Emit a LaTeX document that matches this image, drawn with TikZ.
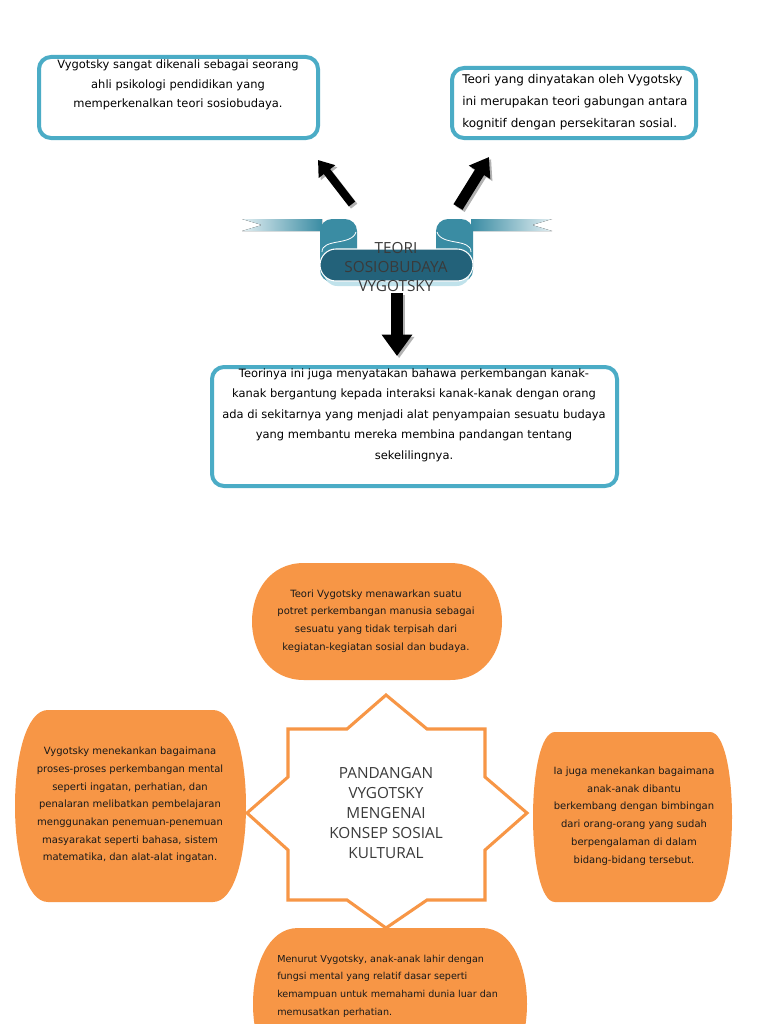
\documentclass[tikz,border=0pt]{standalone}
\usepackage{fontspec}
\setmainfont{DejaVu Sans}
\newfontfamily\titlefont{Open Sans}
\usetikzlibrary{arrows.meta,fit}
\definecolor{boxblue}{HTML}{4BACC6}
\definecolor{orng}{HTML}{F79646}
\definecolor{tealA}{HTML}{3A8CA3}
\definecolor{tealB}{HTML}{23627A}
\definecolor{txtgray}{HTML}{3A3A3A}
\newcommand\orangeblob[5]{%
  \fill[orng] ({#1+#5},#2) -- ({#3-#5},#2)
    .. controls ({#3+#5/3},#2) and ({#3+#5/3},#4) .. ({#3-#5},#4)
    -- ({#1+#5},#4)
    .. controls ({#1-#5/3},#4) and ({#1-#5/3},#2) .. ({#1+#5},#2) -- cycle;}
\begin{document}
\begin{tikzpicture}[x=0.75pt,y={(0pt,-0.75pt)},
  bluebox/.style={draw=boxblue, line width=3pt, rounded corners=9pt, inner sep=0pt, fill=white},
  bluetext/.style={inner sep=0pt, text=black},
  orangetext/.style={inner sep=0pt, text=black!90, font=\fontsize{7.5}{13.3}\selectfont},
  titletext/.style={inner sep=0pt, text=txtgray, align=center},
  blockarrow/.style={draw=black},
  arrowshadow/.style={draw=black!30, transform canvas={shift={(1.6pt,-1.6pt)}}}]
\useasboundingbox (0,0) rectangle (768,1024);
\clip (0,0) rectangle (768,1024);
\fill[white] (0,0) rectangle (768,1024);

% ---------- upper part: blue boxes ----------
\node[bluebox, fit={(39,57) (318,138)}] (b1) {};
\node[bluetext, align=center, font=\fontsize{8.6}{14.6}\selectfont] (t1) at (178,85)
  {Vygotsky sangat dikenali sebagai seorang\\ahli psikologi pendidikan yang\\memperkenalkan teori sosiobudaya.};

\node[bluebox, fit={(452,68) (696,138)}] (b2) {};
\node[bluetext, align=left, anchor=west, font=\fontsize{9}{16.5}\selectfont] (t2) at (462,102)
  {Teori yang dinyatakan oleh Vygotsky\\ini merupakan teori gabungan antara\\kognitif dengan persekitaran sosial.};

\node[bluebox, fit={(212,367) (617,486)}] (b3) {};
\node[bluetext, align=center, font=\fontsize{8.6}{15.4}\selectfont] (t3) at (414,415)
  {Teorinya ini juga menyatakan bahawa perkembangan kanak-\\kanak bergantung kepada interaksi kanak-kanak dengan orang\\ada di sekitarnya yang menjadi alat penyampaian sesuatu budaya\\yang membantu mereka membina pandangan tentang\\sekelilingnya.};

% ---------- banner ----------
\fill[left color=tealA!15, middle color=tealA!85, right color=tealA] (242,219) -- (322,219) -- (322,231) -- (242,231) -- (262,225) -- cycle;
\fill[right color=tealA!15, middle color=tealA!85, left color=tealA] (471,219) -- (552,219) -- (532,225) -- (552,231) -- (471,231) -- cycle;
\fill[tealA, rounded corners=9] (320,219) rectangle (357,282);
\fill[tealA, rounded corners=9] (436,219) rectangle (473,282);
\draw[white, line width=0.6pt] (322,252) .. controls (322,238) and (352,246) .. (356,232);
\draw[white, line width=0.6pt] (471,252) .. controls (471,238) and (441,246) .. (437,232);
\fill[boxblue!35, rounded corners=10] (324,262) rectangle (470,286);
\fill[tealB, rounded corners=12, draw=white, line width=0.8pt] (320,249) rectangle (473,281);
\node[titletext, font=\titlefont\fontsize{11.5}{14.6}\selectfont] (banner) at (396,267)
  {TEORI\\SOSIOBUDAYA\\VYGOTSKY};

% ---------- arrows ----------
\coordinate (ul0) at (352,204); \coordinate (ul1) at (318,160);
\coordinate (ur0) at (458,207); \coordinate (ur1) at (489,157);
\coordinate (d0) at (397,293);  \coordinate (d1) at (397,356);
\draw[arrowshadow, line width=6pt, -{Triangle[length=11pt,width=15pt]}] (ul0) -- (ul1);
\draw[arrowshadow, line width=8pt, -{Triangle[length=13.5pt,width=18pt]}] (ur0) -- (ur1);
\draw[arrowshadow, line width=9.5pt, -{Triangle[length=16pt,width=22pt]}] (d0) -- (d1);
\draw[blockarrow, line width=6pt, -{Triangle[length=11pt,width=15pt]}] (ul0) -- (ul1);
\draw[blockarrow, line width=8pt, -{Triangle[length=13.5pt,width=18pt]}] (ur0) -- (ur1);
\draw[blockarrow, line width=9.5pt, -{Triangle[length=16pt,width=22pt]}] (d0) -- (d1);

% ---------- lower part: orange shapes ----------
\orangeblob{252}{563}{502}{680}{52}
\orangeblob{15}{710}{246}{902}{33}
\orangeblob{533}{732}{732}{902}{22}
\orangeblob{253}{928}{527}{1080}{45}

\node[orangetext, align=center] (o1) at (376,621)
  {Teori Vygotsky menawarkan suatu\\potret perkembangan manusia sebagai\\sesuatu yang tidak terpisah dari\\kegiatan-kegiatan sosial dan budaya.};
\node[orangetext, align=center] (o2) at (130,805)
  {Vygotsky menekankan bagaimana\\proses-proses perkembangan mental\\seperti ingatan, perhatian, dan\\penalaran melibatkan pembelajaran\\menggunakan penemuan-penemuan\\masyarakat seperti bahasa, sistem\\matematika, dan alat-alat ingatan.};
\node[orangetext, align=center] (o3) at (634,816)
  {Ia juga menekankan bagaimana\\anak-anak dibantu\\berkembang dengan bimbingan\\dari orang-orang yang sudah\\berpengalaman di dalam\\bidang-bidang tersebut.};
\node[orangetext, align=left, anchor=west, font=\fontsize{7.2}{13.3}\selectfont] (o4) at (277,986)
  {Menurut Vygotsky, anak-anak lahir dengan\\fungsi mental yang relatif dasar seperti\\kemampuan untuk memahami dunia luar dan\\memusatkan perhatian.};

% ---------- star ----------
\draw[orng, line width=2.3pt, fill=white, line join=miter]
  (288,729) -- (347,729) -- (386,695) -- (427,729) -- (485,729)
  -- (485,777) -- (527,813) -- (485,850) -- (485,900)
  -- (427,900) -- (386,928) -- (347,900) -- (288,900)
  -- (288,850) -- (247,813) -- (288,777) -- cycle;
\node[titletext, font=\titlefont\fontsize{11.5}{15}\selectfont] (star) at (386,813)
  {PANDANGAN\\VYGOTSKY\\MENGENAI\\KONSEP SOSIAL\\KULTURAL};
\end{tikzpicture}
\end{document}
